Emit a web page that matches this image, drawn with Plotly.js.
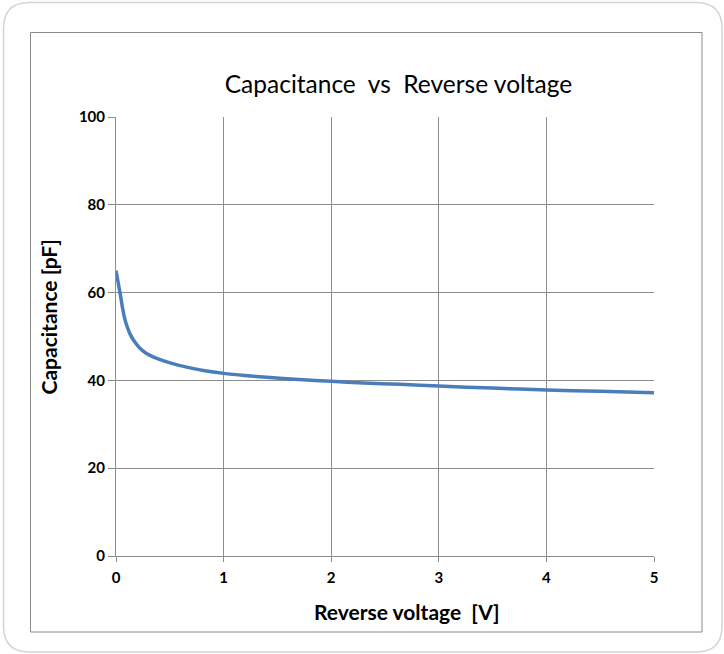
<!DOCTYPE html>
<html>
<head>
<meta charset="utf-8">
<script src="https://cdn.plot.ly/plotly-3.0.1.min.js"></script>
<style>html,body{margin:0;padding:0;background:#fff;}#chart{width:724px;height:654px;}</style>
</head>
<body>
<div id="chart"></div>
<script>
// Data
const voltage = [0, 0.02, 0.04, 0.06, 0.08, 0.1, 0.13, 0.17, 0.22, 0.28, 0.35, 0.45, 0.56, 0.7, 0.8, 1.0, 1.2, 1.4, 1.7, 2.0, 2.3, 2.64, 3.0, 3.5, 4.0, 4.5, 5.0];
const capacitance = [65, 62.3, 59.6, 56.6, 54.2, 52.5, 50.6, 48.9, 47.4, 46.2, 45.3, 44.4, 43.6, 42.8, 42.3, 41.6, 41.1, 40.7, 40.2, 39.8, 39.4, 39.1, 38.7, 38.25, 37.8, 37.5, 37.2];
const xTicks = [0, 1, 2, 3, 4, 5];
const yTicks = [0, 20, 40, 60, 80, 100];
const chartTitle = 'Capacitance&nbsp;&nbsp;vs&nbsp;&nbsp;Reverse voltage';
const xTitle = 'Reverse voltage&nbsp;&nbsp;[V]';
const yTitle = 'Capacitance [pF]';

const W = 724, H = 654;
const L = 116, R = 654, T = 117, B = 556;
const px = x => (x - L) / (R - L);
const py = y => (B - y) / (B - T);

function roundRect(x0, y0, x1, y1, r) {
  return 'M' + px(x0 + r) + ',' + py(y0) +
    ' L' + px(x1 - r) + ',' + py(y0) +
    ' Q' + px(x1) + ',' + py(y0) + ' ' + px(x1) + ',' + py(y0 + r) +
    ' L' + px(x1) + ',' + py(y1 - r) +
    ' Q' + px(x1) + ',' + py(y1) + ' ' + px(x1 - r) + ',' + py(y1) +
    ' L' + px(x0 + r) + ',' + py(y1) +
    ' Q' + px(x0) + ',' + py(y1) + ' ' + px(x0) + ',' + py(y1 - r) +
    ' L' + px(x0) + ',' + py(y0 + r) +
    ' Q' + px(x0) + ',' + py(y0) + ' ' + px(x0 + r) + ',' + py(y0) + ' Z';
}

const trace = {
  x: voltage, y: capacitance, type: 'scatter', mode: 'lines',
  line: {color: '#4a7ebb', width: 3.5, shape: 'spline', smoothing: 0.7},
  hoverinfo: 'skip'
};

const FAM = 'Lato, "Open Sans", sans-serif';
const tickFont = {family: FAM, size: 15, color: '#000', weight: 'bold'};
const axTitleFont = {family: FAM, size: 21, color: '#000', weight: 'bold'};

const layout = {
  width: W, height: H,
  margin: {l: L, r: W - R, t: T, b: H - B},
  paper_bgcolor: '#fff', plot_bgcolor: '#fff',
  showlegend: false,
  title: {
    text: chartTitle,
    font: {family: FAM, size: 24.5, color: '#000'},
    x: 398.5 / W, xanchor: 'center', y: 1 - 84 / H, yanchor: 'middle'
  },
  xaxis: {
    range: [0, 5], tickvals: xTicks, ticktext: xTicks.map(String),
    showgrid: true, gridcolor: '#8e8e8e', gridwidth: 1,
    showline: true, linecolor: '#8e8e8e', linewidth: 1,
    ticks: 'outside', ticklen: 5, tickcolor: '#8e8e8e', ticklabelstandoff: 3,
    zeroline: false, tickfont: tickFont
  },
  yaxis: {
    range: [0, 100], tickvals: yTicks, ticktext: yTicks.map(String),
    showgrid: true, gridcolor: '#8e8e8e', gridwidth: 1,
    showline: true, linecolor: '#8e8e8e', linewidth: 1,
    ticks: 'outside', ticklen: 7, tickcolor: '#8e8e8e',
    zeroline: false, tickfont: tickFont
  },
  annotations: [
    {text: xTitle, xref: 'paper', yref: 'paper', x: px(406.5), y: py(611),
     xanchor: 'center', yanchor: 'middle', showarrow: false, font: axTitleFont},
    {text: yTitle, xref: 'paper', yref: 'paper', x: px(48), y: py(317.5), textangle: -90,
     xanchor: 'center', yanchor: 'middle', showarrow: false, font: axTitleFont}
  ],
  shapes: [
    {type: 'path', xref: 'paper', yref: 'paper', path: roundRect(3.5, 2.5, 722, 652, 26),
     line: {color: '#d4d4d4', width: 1.5}, fillcolor: 'rgba(0,0,0,0)', layer: 'below'},
    {type: 'rect', xref: 'paper', yref: 'paper', x0: px(30.5), x1: px(702), y0: py(632), y1: py(32.5),
     line: {color: '#8a8a8a', width: 1}, fillcolor: 'rgba(0,0,0,0)', layer: 'below'}
  ]
};

Plotly.newPlot('chart', [trace], layout, {staticPlot: true, displayModeBar: false});
</script>
</body>
</html>
